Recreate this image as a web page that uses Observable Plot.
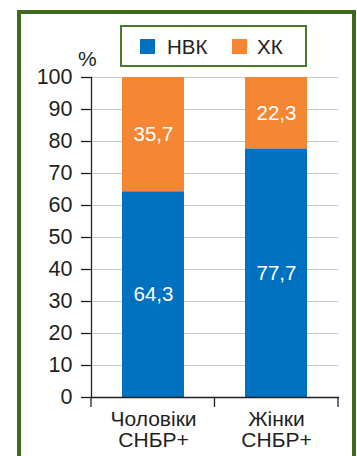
<!DOCTYPE html>
<html>
<head>
<meta charset="utf-8">
<script src="https://cdn.jsdelivr.net/npm/d3@7"></script>
<script src="https://cdn.jsdelivr.net/npm/@observablehq/plot@0.6"></script>
<style>
  html, body { margin: 0; padding: 0; background: #fff; }
  #wrap { position: relative; width: 357px; height: 456px; overflow: hidden; font-family: "Liberation Sans", Arial, sans-serif; color: #231f20; }
  #frame { position: absolute; left: 17px; top: 10px; width: 339px; height: 470px; border: 4px solid #3e6a20; box-sizing: border-box; }
  #legend { position: absolute; left: 120px; top: 25px; width: 187px; height: 42px; border: 2px solid #4b7a2b; box-sizing: border-box; background: #fff; }
  .sw { position: absolute; width: 15px; height: 15px; }
  .lt { position: absolute; font-size: 20.5px; line-height: 20px; }
  #pct { position: absolute; left: 78px; top: 49px; font-size: 21px; line-height: 20px; }
  #chart { position: absolute; left: 0; top: 0; }
</style>
</head>
<body>
<div id="wrap">
  <div id="frame"></div>
  <div id="chart"></div>
  <div id="legend"></div>
  <div id="pct">%</div>
</div>
<script>
const categories = ["Чоловіки\nСНБР+", "Жінки\nСНБР+"];
const seriesNames = ["НВК", "ХК"];
const seriesColors = ["#0070c0", "#f58634"];
const valuesNVK = [64.3, 77.7];
const valuesXK = [35.7, 22.3];
const yTicks = [0, 10, 20, 30, 40, 50, 60, 70, 80, 90, 100];

const data = [];
categories.forEach((c, i) => {
  data.push({group: c, series: seriesNames[0], value: valuesNVK[i]});
  data.push({group: c, series: seriesNames[1], value: valuesXK[i]});
});
const fmt = v => v.toFixed(1).replace(".", ",");

const W = 357, H = 456;
const mL = 91, mR = 19, mT = 77, mB = 59;

// boundary ticks under the x axis (between categories)
function boundaryTicks(index, scales, values, dimensions) {
  const {width, height, marginLeft, marginRight, marginBottom} = dimensions;
  const n = categories.length;
  const step = (width - marginLeft - marginRight) / n;
  const y0 = height - marginBottom;
  const g = d3.create("svg:g");
  for (let k = 0; k <= n; k++) {
    g.append("line")
      .attr("x1", marginLeft + k * step).attr("x2", marginLeft + k * step)
      .attr("y1", y0).attr("y2", y0 + 10)
      .attr("stroke", "#231f20").attr("stroke-width", 1.3);
  }
  return g.node();
}

const plot = Plot.plot({
  width: W, height: H,
  marginLeft: mL, marginRight: mR, marginTop: mT, marginBottom: mB,
  style: {fontFamily: "'Liberation Sans', Arial, sans-serif", fontSize: "21px", color: "#231f20", background: "transparent"},
  x: {domain: categories, paddingInner: 0.5, paddingOuter: 0.25, label: null},
  y: {domain: [0, 100], label: null},
  color: {domain: seriesNames, range: seriesColors},
  marks: [
    Plot.gridY(yTicks.filter(t => t > 0), {stroke: "#c8c8c8", strokeOpacity: 1, strokeWidth: 1}),
    Plot.barY(data, {x: "group", y: "value", fill: "series"}),
    Plot.text(data, Plot.stackY({x: "group", y: "value", z: "series", text: d => fmt(d.value), fill: "white", fontSize: 20.5})),
    Plot.axisY(yTicks, {tickSize: 10, tickPadding: 9, stroke: "#231f20", strokeWidth: 1.3, fontSize: 21.5, fill: "#231f20"}),
    Plot.axisX({tickSize: 0, tickPadding: 14, fontSize: 21, fill: "#231f20", lineHeight: 1}),
    Plot.frame({anchor: "left", stroke: "#231f20", strokeWidth: 1.3}),
    Plot.frame({anchor: "bottom", stroke: "#231f20", strokeWidth: 1.3}),
    boundaryTicks
  ]
});
document.getElementById("chart").appendChild(plot);

// legend
const leg = document.getElementById("legend");
const legPos = [{sw: 18, tx: 45}, {sw: 110, tx: 135}];
seriesNames.forEach((s, i) => {
  const sw = document.createElement("div");
  sw.className = "sw";
  sw.style.left = legPos[i].sw + "px"; sw.style.top = "12px";
  sw.style.background = seriesColors[i];
  leg.appendChild(sw);
  const t = document.createElement("div");
  t.className = "lt";
  t.style.left = legPos[i].tx + "px"; t.style.top = "10px";
  t.textContent = s;
  leg.appendChild(t);
});
</script>
</body>
</html>
